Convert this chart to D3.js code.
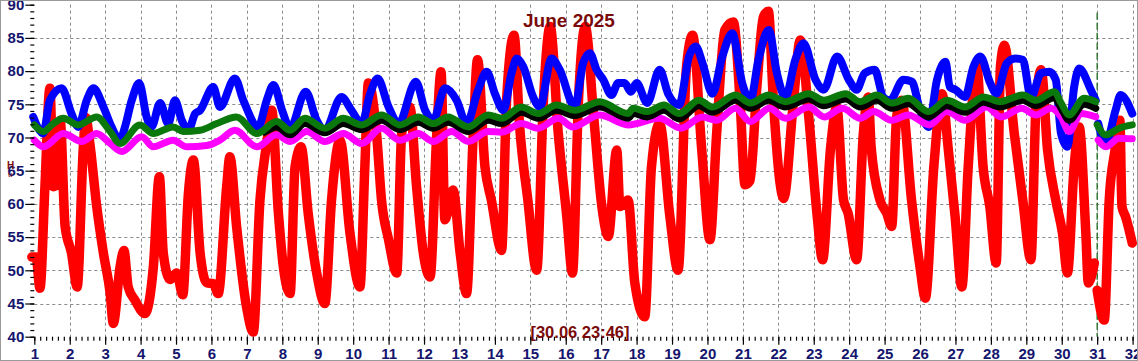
<!DOCTYPE html>
<html lang="en">
<head>
<meta charset="UTF-8">
<title>June 2025</title>
<script src="https://cdn.jsdelivr.net/npm/d3@7"></script>
<style>
  body { margin: 0; background: #fff; }
  svg { display: block; font-family: "Liberation Sans", Arial, sans-serif; }
</style>
</head>
<body>
<svg id="chart" width="1138" height="361"></svg>
<script>
// [day, value] pairs
const redMain = [[0.93,52],[1.05,52],[1.16,47.3],[1.3,62.6],[1.44,77.4],[1.54,62.6],[1.62,63],[1.73,72.6],[1.87,56.6],[2.05,52.6],[2.21,47.5],[2.38,68.1],[2.45,73],[2.57,69],[2.76,59.7],[2.95,52.6],[3.14,46.6],[3.23,42],[3.42,50.5],[3.53,53],[3.65,47.5],[3.84,45.5],[4.12,43.5],[4.36,50.5],[4.53,64.1],[4.64,52.6],[4.83,48.6],[5.02,49.6],[5.19,46.3],[5.35,61.6],[5.49,66.6],[5.68,52.6],[5.87,48.1],[6.05,48],[6.19,46.5],[6.43,62.6],[6.52,67.1],[6.71,56.6],[6.99,44.5],[7.18,40.7],[7.37,60.6],[7.56,69.1],[7.7,74.1],[7.89,58.6],[8.03,50.5],[8.22,46.5],[8.36,65.6],[8.53,68.6],[8.73,58.6],[8.97,49.6],[9.2,45],[9.39,60.6],[9.63,69.6],[9.91,55.6],[10.19,47.5],[10.33,65.6],[10.43,78.2],[10.66,70.6],[10.8,60.6],[11.0,54.6],[11.23,49.6],[11.37,70.6],[11.6,74.6],[11.79,62.6],[11.98,52.6],[12.17,49],[12.36,70.6],[12.48,79.9],[12.59,57.6],[12.82,62.1],[13.02,52.6],[13.2,46.5],[13.39,70.6],[13.51,81.7],[13.72,65.6],[13.9,60.6],[14.19,53],[14.33,75.6],[14.54,85.4],[14.7,71.6],[14.93,60.6],[15.18,50],[15.37,75.6],[15.56,86.7],[15.79,70.6],[16.03,58.1],[16.19,49.6],[16.36,75.6],[16.55,86.7],[16.79,73.1],[17.02,59.6],[17.2,55.1],[17.44,68.1],[17.53,59.6],[17.76,60.6],[17.95,48.1],[18.23,43],[18.42,65.6],[18.65,72.1],[18.94,58.1],[19.17,50],[19.41,80.7],[19.58,85.4],[19.84,68.1],[20.07,54.6],[20.26,70.6],[20.49,86.2],[20.73,87.4],[20.92,75.6],[21.06,62.9],[21.2,63.5],[21.4,78],[21.58,88.2],[21.72,89],[21.86,75.6],[22.05,63.1],[22.15,60.8],[22.43,75.6],[22.62,84.7],[22.86,73.1],[23.09,58.6],[23.25,51.6],[23.47,68.1],[23.65,74.6],[23.84,60.6],[23.97,58.6],[24.21,51.6],[24.4,70.6],[24.54,76.1],[24.62,68.6],[24.87,60.6],[25.06,58.6],[25.2,56.6],[25.34,73.1],[25.48,75.6],[25.76,60.6],[26.0,50.5],[26.15,45.8],[26.39,65.6],[26.62,76.6],[26.8,68.1],[26.99,58.1],[27.18,47.5],[27.36,65.6],[27.6,80.7],[27.78,65.6],[27.97,59.6],[28.15,51.1],[28.27,80.7],[28.38,83.9],[28.66,70.6],[28.9,60.6],[29.13,51.6],[29.28,75.6],[29.42,80.2],[29.6,68.1],[29.83,60.6],[30.02,55.6],[30.16,49.6],[30.35,65.6],[30.49,71.6],[30.68,55.6],[30.75,48.1],[30.92,51.1]];
const redTail = [[31.0,47],[31.2,42.5],[31.34,60.6],[31.5,68],[31.64,72.6],[31.7,59.6],[31.8,58.1],[31.99,54.1]];

const blueMain = [[0.97,73.1],[1.1,71.5],[1.25,70.6],[1.44,75.6],[1.77,77.4],[2.05,73.6],[2.24,71.6],[2.48,75.6],[2.67,77.4],[2.95,74.6],[3.18,71.6],[3.42,69.6],[3.56,71.6],[3.75,75.6],[3.96,78.2],[4.17,73.1],[4.31,71.6],[4.55,75.2],[4.78,72.1],[4.97,75.6],[5.16,72.6],[5.35,71.1],[5.54,73.6],[5.68,74.1],[6.05,77.6],[6.24,74.6],[6.66,78.9],[6.9,75.6],[7.32,71.6],[7.56,75.6],[7.75,77.9],[8.0,74],[8.22,71.4],[8.66,76.9],[8.97,72.6],[9.2,71.1],[9.67,76.1],[9.95,74.1],[10.24,72.1],[10.48,76.6],[10.69,78.9],[11.0,74.6],[11.28,72.1],[11.77,78.4],[12.03,74.1],[12.26,72.6],[12.59,77.4],[12.92,75.6],[13.2,72.1],[13.53,77.2],[13.77,79.9],[14.0,76.6],[14.24,74.1],[14.47,79.7],[14.62,81.9],[14.8,80.7],[15.08,76.1],[15.27,74.6],[15.6,81.9],[15.83,80.2],[16.26,74.6],[16.49,81.2],[16.68,82.7],[16.87,80.2],[17.06,78.7],[17.29,76.4],[17.48,78.2],[17.66,78.2],[17.84,76.9],[18.0,78.2],[18.3,75.2],[18.65,80.2],[18.89,76.6],[19.2,74.9],[19.48,82.2],[19.67,83.7],[19.86,81.2],[20.14,76.6],[20.42,82.2],[20.7,85.7],[20.98,78.2],[21.21,75.6],[21.44,81.7],[21.73,86.2],[21.96,79.7],[22.2,76.1],[22.48,81.7],[22.71,84.2],[23.05,78.7],[23.28,77.2],[23.66,82.2],[23.99,78.7],[24.21,77.2],[24.44,79.7],[24.72,80.2],[24.96,76.1],[25.15,75.6],[25.53,78.7],[25.77,78.4],[26.0,74.1],[26.24,71.6],[26.48,78.7],[26.72,81.4],[26.84,77.6],[27.0,77.2],[27.27,76.1],[27.51,80.7],[27.7,82.2],[27.98,78.2],[28.16,76.6],[28.45,81.2],[28.68,81.9],[28.9,81.7],[29.13,76.1],[29.42,79.7],[29.65,79.9],[29.83,78.7],[29.98,70.6],[30.16,68.6],[30.35,77.6],[30.49,80.4],[30.82,77.2],[30.96,75.6]];
const blueTail = [[31.03,72.1],[31.24,69.1],[31.52,74.1],[31.66,76.4],[31.99,73.6]];

const greenMain = [[1.0,71.9],[1.25,70.9],[1.54,72.1],[1.82,72.9],[2.24,71.9],[2.76,73.1],[3.14,70.9],[3.42,69.1],[3.98,71.9],[4.36,70.6],[4.92,71.6],[5.2,70.9],[5.68,71.1],[6.15,72.1],[6.71,73.1],[7.28,70.6],[7.84,72.4],[8.22,71.1],[8.64,72.9],[9.2,71.4],[9.72,72.9],[10.24,71.9],[10.8,73.4],[11.32,71.9],[11.84,73.1],[12.26,72.1],[12.68,73.1],[13.25,71.6],[13.81,73.4],[14.19,72.9],[14.75,74.6],[15.22,73.6],[15.74,74.9],[16.26,74.1],[16.96,75.4],[17.76,73.6],[17.9,74.4],[18.3,73.9],[18.77,74.9],[19.2,73.6],[19.76,75.6],[20.14,74.6],[20.79,76.4],[21.21,75.2],[21.73,76.4],[22.2,75.4],[22.86,76.6],[23.28,75.6],[23.9,76.6],[24.31,75.4],[24.78,76.4],[25.2,75.2],[25.67,75.9],[26.24,73.9],[26.76,75.6],[27.27,74.6],[27.79,76.1],[28.26,75.4],[28.9,76.4],[29.27,75.6],[29.79,76.9],[29.98,75.2],[30.21,73.4],[30.63,75.9],[30.96,75.4]];
const greenTail = [[31.0,71.9],[31.24,70.4],[31.62,71.4],[31.99,71.9]];

const blackMain = [[7.5,70.8],[7.84,71.6],[8.22,70.4],[8.64,72.1],[9.2,70.7],[9.72,72.1],[10.24,71.2],[10.8,72.6],[11.32,71.2],[11.84,72.3],[12.26,71.4],[12.68,72.3],[13.25,70.9],[13.81,72.6],[14.19,72.1],[14.75,73.8],[15.22,72.9],[15.74,74.1],[16.26,73.3],[16.96,74.6],[17.76,72.9],[17.9,73.6],[18.3,73.1],[18.77,74.1],[19.2,72.8],[19.76,74.8],[20.14,73.8],[20.79,75.6],[21.21,74.4],[21.73,75.6],[22.2,74.6],[22.86,75.8],[23.28,74.8],[23.9,75.8],[24.31,74.6],[24.78,75.6],[25.2,74.4],[25.67,75.1],[26.24,73.1],[26.76,74.8],[27.27,73.8],[27.79,75.3],[28.26,74.6],[28.9,75.6],[29.27,74.8],[29.79,76.0],[29.98,74.4],[30.21,72.6],[30.63,75.0],[30.96,74.4]];

const pinkMain = [[1.0,69.6],[1.25,68.6],[1.82,70.6],[2.34,69.4],[2.76,70.6],[3.14,69.1],[3.47,67.9],[4.03,70.1],[4.36,68.6],[4.92,69.6],[5.3,68.6],[5.87,68.8],[6.24,69.6],[6.66,71.1],[7.28,68.6],[7.84,70.4],[8.22,69.4],[8.69,70.9],[9.2,69.4],[9.72,70.6],[10.24,69.1],[10.8,71.4],[11.32,69.6],[11.84,70.6],[12.26,69.4],[12.78,70.9],[13.25,69.4],[13.81,70.9],[14.19,70.8],[14.75,72.1],[15.22,71.4],[15.79,72.9],[16.2,71.6],[16.96,73.4],[17.76,71.9],[18.65,72.9],[19.25,71.4],[19.86,73.1],[20.26,72.6],[20.79,74.4],[21.21,72.4],[21.75,74.4],[22.2,72.9],[22.86,74.6],[23.3,73.1],[23.81,74.4],[24.31,72.9],[24.69,73.9],[25.2,72.6],[25.67,73.4],[26.27,71.9],[26.76,73.9],[27.27,72.6],[27.88,74.6],[28.29,73.1],[28.87,74.4],[29.27,73.4],[29.7,74.4],[29.98,73.1],[30.21,70.9],[30.54,73.6],[30.96,73.1]];
const pinkTail = [[31.03,69.6],[31.24,68.6],[31.62,69.9],[31.99,69.8]];

const dayTicks = d3.range(1, 33);
const valueTicks = d3.range(40, 91, 5);
const title = "June 2025";
const stamp = "[30.06 23:46]";
const nowDay = 31;

const svg = d3.select('#chart');
const W = 1138, H = 361;

const x = d3.scaleLinear().domain([1, 32]).range([34.3, 1132.6]);
const y = d3.scaleLinear().domain([40, 90]).range([336.7, 4.7]);

const navy = '#15156e';
const darkRed = '#7a0a0a';

svg.append('rect').attr('width', W).attr('height', H).attr('fill', '#fff');

// grid
const grid = svg.append('g').attr('stroke', '#8a8a8a').attr('stroke-width', 1)
    .attr('stroke-dasharray', '3,3');
grid.selectAll('.h').data(valueTicks.filter(v => v > 40 && v < 90)).join('line')
    .attr('x1', x(1)).attr('x2', x(32))
    .attr('y1', d => Math.round(y(d)) + 0.5).attr('y2', d => Math.round(y(d)) + 0.5);
grid.selectAll('.v').data(dayTicks.filter(d => d > 1)).join('line')
    .attr('x1', d => Math.round(x(d)) + 0.5).attr('x2', d => Math.round(x(d)) + 0.5)
    .attr('y1', y(90)).attr('y2', y(40));

// "now" marker
svg.append('line')
    .attr('x1', x(nowDay)).attr('x2', x(nowDay))
    .attr('y1', y(90) + 8).attr('y2', y(40))
    .attr('stroke', '#1c6b1c').attr('stroke-width', 1.3)
    .attr('stroke-dasharray', '7,3');

// series
const line = d3.line().x(d => x(d[0])).y(d => y(d[1])).curve(d3.curveMonotoneX);
const series = [
    { data: [redMain, redTail], color: '#ff0000', w: 9.5 },
    { data: [blueMain, blueTail], color: '#0000ff', w: 8 },
    { data: [pinkMain, pinkTail], color: '#ff00ff', w: 7 },
    { data: [blackMain], color: '#000000', w: 7 },
    { data: [greenMain, greenTail], color: '#0b780b', w: 7 }
];
series.forEach(s => {
    svg.append('g').selectAll('path').data(s.data).join('path')
        .attr('d', line)
        .attr('fill', 'none')
        .attr('stroke', s.color)
        .attr('stroke-width', s.w)
        .attr('stroke-linejoin', 'round')
        .attr('stroke-linecap', 'round');
});

// axes
svg.append('g').attr('transform', `translate(${x(1)},0)`)
    .call(d3.axisLeft(y).tickValues(valueTicks).tickSize(9).tickPadding(1));
svg.append('g').attr('transform', `translate(${x(1)},0)`)
    .call(d3.axisLeft(y).tickValues(d3.range(40, 91, 1)).tickSize(4).tickFormat(''));

svg.append('g').attr('transform', `translate(0,${y(40)})`)
    .call(d3.axisBottom(x).tickValues(dayTicks).tickSize(8).tickPadding(4).tickFormat(d3.format('d')));
svg.append('g').attr('transform', `translate(0,${y(40)})`)
    .call(d3.axisBottom(x).tickValues(d3.range(1, 32.01, 1 / 6)).tickSize(4).tickFormat(''));

svg.selectAll('.domain').remove();
svg.selectAll('.tick line').attr('stroke', '#000').attr('stroke-width', 1.2);
svg.selectAll('.tick text')
    .attr('fill', navy).attr('font-size', 15).attr('font-weight', 'bold')
    .attr('font-family', '"Liberation Sans", Arial, sans-serif');

// texts
svg.append('text').attr('x', 569).attr('y', 27).attr('text-anchor', 'middle')
    .attr('font-size', 19).attr('font-weight', 'bold').attr('fill', darkRed).text(title);
svg.append('text').attr('x', 580).attr('y', 338).attr('text-anchor', 'middle')
    .attr('font-size', 16.5).attr('font-weight', 'bold').attr('fill', darkRed).text(stamp);
const hu = svg.append('text').attr('x', 7).attr('y', 169)
    .attr('font-size', 10).attr('font-weight', 'bold').attr('fill', darkRed);
hu.append('tspan').text('H');
hu.append('tspan').attr('x', 8).attr('dy', 8).attr('font-size', 8).attr('font-weight', 'normal').text('u');

// border
svg.append('rect').attr('x', 0.5).attr('y', 0.5).attr('width', W - 1).attr('height', H - 1)
    .attr('fill', 'none').attr('stroke', '#9a9a9a').attr('stroke-width', 1);
</script>
</body>
</html>
